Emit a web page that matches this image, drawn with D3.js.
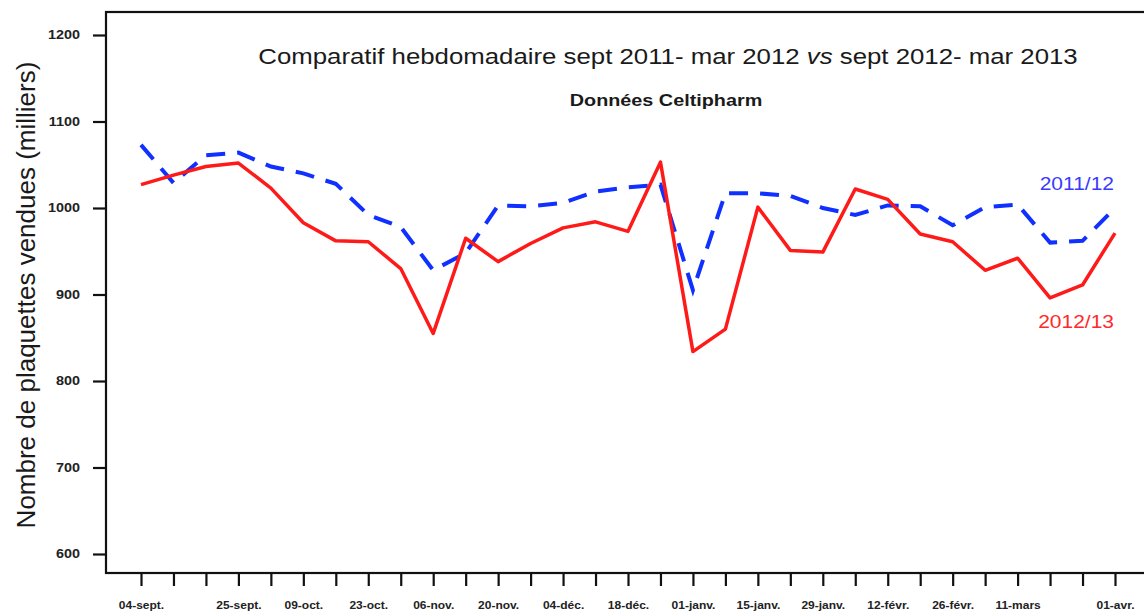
<!DOCTYPE html>
<html>
<head>
<meta charset="utf-8">
<script src="https://cdn.jsdelivr.net/npm/d3@7"></script>
<style>
  body { margin: 0; background: #fff; }
  svg { display: block; font-family: "Liberation Sans", Arial, sans-serif; }
</style>
</head>
<body>
<div id="chart"></div>
<script>
// weekly ticks, 04-sept. -> 01-avr. (only some are labelled)
var weekLabels = ["04-sept.", "", "", "25-sept.", "", "09-oct.", "", "23-oct.", "", "06-nov.", "",
  "20-nov.", "", "04-déc.", "", "18-déc.", "", "01-janv.", "", "15-janv.", "", "29-janv.", "",
  "12-févr.", "", "26-févr.", "", "11-mars", "", "", "01-avr."];

// sept 2011 - mar 2012 (milliers)
var serie2011 = [1073, 1029, 1061, 1064, 1048, 1040, 1028, 992, 978, 928, 948, 1003, 1002, 1006,
  1019, 1024, 1027, 905, 1017, 1017, 1014, 1000, 992, 1003, 1002, 980, 1001, 1004, 960, 962, 1000];

// sept 2012 - mar 2013 (milliers)
var serie2012 = [1027, 1038, 1048, 1052, 1023, 983, 962, 961, 930, 855, 965, 938, 959, 977,
  984, 973, 1053, 834, 860, 1001, 951, 949, 1022, 1010, 970, 961, 928, 942, 896, 911, 971];

var yTicks = [600, 700, 800, 900, 1000, 1100, 1200];

var width = 1144, height = 615;
var box = {left: 106, top: 12, right: 1152, bottom: 573};
var stretch = 1.2;

var svg = d3.select("#chart").append("svg")
    .attr("width", width)
    .attr("height", height);

var x = d3.scaleLinear()
    .domain([0, weekLabels.length - 1])
    .range([141, 1115]);

var y = d3.scaleLinear()
    .domain([600, 1200])
    .range([554, 35]);

// frame
svg.append("rect")
    .attr("x", box.left)
    .attr("y", box.top)
    .attr("width", box.right - box.left)
    .attr("height", box.bottom - box.top)
    .attr("fill", "none")
    .attr("stroke", "#111")
    .attr("stroke-width", 2.2);

// y axis
var yAxis = d3.axisLeft(y)
    .tickValues(yTicks)
    .tickSize(13)
    .tickPadding(10)
    .tickFormat(d3.format("d"));
var gy = svg.append("g")
    .attr("transform", "translate(" + box.left + ",0)")
    .call(yAxis);
gy.select(".domain").remove();
gy.selectAll("line").attr("stroke", "#111").attr("stroke-width", 2.2);
gy.selectAll("text")
    .attr("font-size", 12)
    .attr("font-weight", "bold")
    .attr("fill", "#222")
    .attr("transform", "scale(" + stretch + ",1)")
    .attr("x", -26 / stretch);

// x axis
var xAxis = d3.axisBottom(x)
    .tickValues(d3.range(weekLabels.length))
    .tickSize(13)
    .tickPadding(16)
    .tickFormat(function(d) { return weekLabels[d]; });
var gx = svg.append("g")
    .attr("transform", "translate(0," + box.bottom + ")")
    .call(xAxis);
gx.select(".domain").remove();
gx.selectAll("line").attr("stroke", "#111").attr("stroke-width", 2.2);
gx.selectAll("text")
    .attr("font-size", 10)
    .attr("font-weight", "bold")
    .attr("fill", "#222")
    .attr("transform", "scale(" + stretch + ",1)")
    .attr("x", 0);

// lines
var line = d3.line()
    .x(function(d, i) { return x(i); })
    .y(function(d) { return y(d); });

svg.append("path")
    .datum(serie2011)
    .attr("d", line)
    .attr("fill", "none")
    .attr("stroke", "#1030ff")
    .attr("stroke-width", 4)
    .attr("stroke-dasharray", "19,12");

svg.append("path")
    .datum(serie2012)
    .attr("d", line)
    .attr("fill", "none")
    .attr("stroke", "#ff1a1a")
    .attr("stroke-width", 3.5)
    .attr("stroke-linejoin", "round");

// series labels
svg.append("text")
    .attr("transform", "translate(1114,190) scale(" + stretch + ",1)")
    .attr("text-anchor", "end")
    .attr("font-size", 17.5)
    .attr("fill", "#3a3aff")
    .text("2011/12");

svg.append("text")
    .attr("transform", "translate(1114,328) scale(" + stretch + ",1)")
    .attr("text-anchor", "end")
    .attr("font-size", 17.5)
    .attr("fill", "#ff2a2a")
    .text("2012/13");

// titles
var title = svg.append("text")
    .attr("transform", "translate(668,64) scale(" + stretch + ",1)")
    .attr("text-anchor", "middle")
    .attr("font-size", 21.5)
    .attr("fill", "#1a1a1a");
title.append("tspan").text("Comparatif hebdomadaire sept 2011- mar 2012 ");
title.append("tspan").attr("font-style", "italic").text("vs");
title.append("tspan").text(" sept 2012- mar 2013");

svg.append("text")
    .attr("transform", "translate(666,106) scale(" + stretch + ",1)")
    .attr("text-anchor", "middle")
    .attr("font-size", 16.5)
    .attr("font-weight", "bold")
    .attr("fill", "#1a1a1a")
    .text("Données Celtipharm");

svg.append("text")
    .attr("transform", "translate(35,295) rotate(-90)")
    .attr("text-anchor", "middle")
    .attr("font-size", 26)
    .attr("fill", "#1a1a1a")
    .text("Nombre de plaquettes vendues (milliers)");
</script>
</body>
</html>
